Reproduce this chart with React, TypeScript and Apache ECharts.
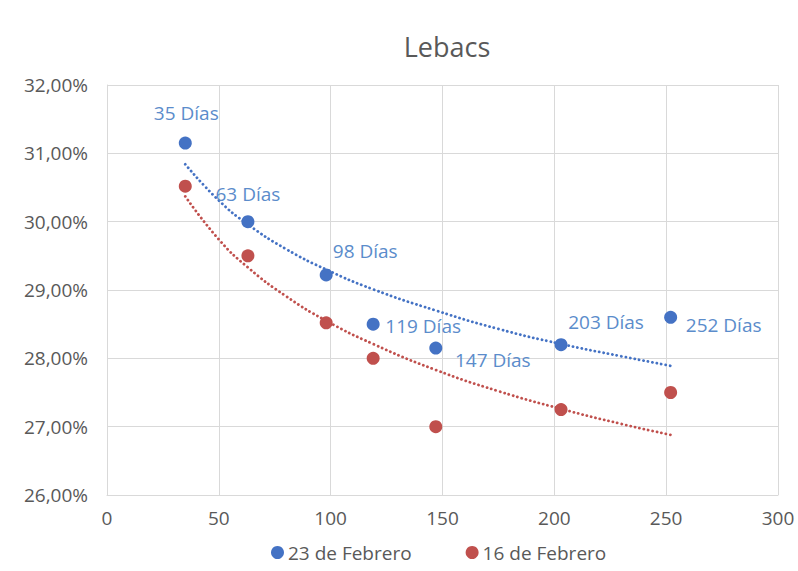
import React, { useEffect, useRef } from "react";
import * as echarts from "echarts";

const days = [35, 63, 98, 119, 147, 203, 252];
const feb23 = [31.15, 30.0, 29.22, 28.5, 28.15, 28.2, 28.6];
const feb16 = [30.52, 29.5, 28.52, 28.0, 27.0, 27.25, 27.5];
const dayLabels = ["35 Días", "63 Días", "98 Días", "119 Días", "147 Días", "203 Días", "252 Días"];

// trendline values
const trendX = [35, 50, 63, 80, 98, 119, 147, 175, 203, 230, 252];
const trend23 = [30.84, 30.31, 29.96, 29.6, 29.3, 29.01, 28.7, 28.43, 28.21, 28.03, 27.89];
const trend16 = [30.37, 29.74, 29.33, 28.91, 28.55, 28.21, 27.83, 27.52, 27.26, 27.04, 26.88];

const seriesNames = ["23 de Febrero", "16 de Febrero"];
const yTicks = [26, 27, 28, 29, 30, 31, 32];

const BLUE = "#4472C4";
const RED = "#C0504D";
const LABEL_BLUE = "#5B8CCB";
const labelOffsets = [
  [1, -30],
  [0, -28],
  [39, -24],
  [50, 2],
  [57, 12],
  [45, -23],
  [53, 8],
];

export default function App() {
  const ref = useRef<HTMLDivElement>(null);
  useEffect(() => {
    if (!ref.current) return;
    const chart = echarts.init(ref.current, null, { renderer: "svg" });
    const font = "'Open Sans', 'Noto Sans', sans-serif";
    const dotted = { type: [0.1, 4.4], cap: "round" as const, width: 2.8 };
    chart.setOption({
      animation: false,
      backgroundColor: "#fff",
      textStyle: { fontFamily: font },
      title: {
        text: "Lebacs",
        left: 442,
        textAlign: "center",
        top: 28,
        textStyle: { fontSize: 27, fontWeight: "normal", color: "#595959", fontFamily: font },
      },
      legend: {
        top: 538,
        left: 266,
        itemGap: 54,
        icon: "circle",
        itemWidth: 13,
        itemHeight: 13,
        data: seriesNames,
        textStyle: { fontSize: 19, color: "#595959", fontFamily: font, padding: [0, 0, 0, -1] },
      },
      grid: { left: 107, right: 20, top: 85, bottom: 76 },
      xAxis: {
        type: "value",
        min: 0,
        max: 300,
        interval: 50,
        axisLine: { show: true, lineStyle: { color: "#D9D9D9" } },
        axisTick: { show: false },
        splitLine: { show: true, lineStyle: { color: "#D9D9D9" } },
        axisLabel: { fontSize: 19, color: "#595959", margin: 13, fontFamily: font },
      },
      yAxis: {
        type: "value",
        min: yTicks[0],
        max: yTicks[yTicks.length - 1],
        interval: 1,
        axisLine: { show: true, lineStyle: { color: "#D9D9D9" } },
        axisTick: { show: false },
        splitLine: { show: true, lineStyle: { color: "#D9D9D9" } },
        axisLabel: {
          fontSize: 19,
          color: "#595959",
          margin: 19,
          fontFamily: font,
          formatter: (v: number) => v.toFixed(2).replace(".", ",") + "%",
        },
      },
      series: [
        {
          name: "trend23",
          type: "line",
          data: trendX.map((x, i) => [x, trend23[i]]),
          smooth: true,
          showSymbol: false,
          lineStyle: { ...dotted, color: BLUE },
          z: 1,
          silent: true,
        },
        {
          name: "trend16",
          type: "line",
          data: trendX.map((x, i) => [x, trend16[i]]),
          smooth: true,
          showSymbol: false,
          lineStyle: { ...dotted, color: RED },
          z: 1,
          silent: true,
        },
        {
          name: seriesNames[0],
          type: "scatter",
          symbolSize: 13,
          itemStyle: { color: BLUE, opacity: 1 },
          z: 3,
          data: days.map((d, i) => ({
            value: [d, feb23[i]],
            label: {
              show: true,
              position: "inside",
              offset: labelOffsets[i],
              formatter: dayLabels[i],
              color: LABEL_BLUE,
              fontSize: 19,
              fontFamily: font,
            },
          })),
        },
        {
          name: seriesNames[1],
          type: "scatter",
          symbolSize: 13,
          itemStyle: { color: RED, opacity: 1 },
          z: 2,
          data: days.map((d, i) => [d, feb16[i]]),
        },
      ],
    });
    return () => chart.dispose();
  }, []);
  return (
    <div
      ref={ref}
      style={{ position: "absolute", left: 0, top: 0, width: 798, height: 571 }}
    />
  );
}
